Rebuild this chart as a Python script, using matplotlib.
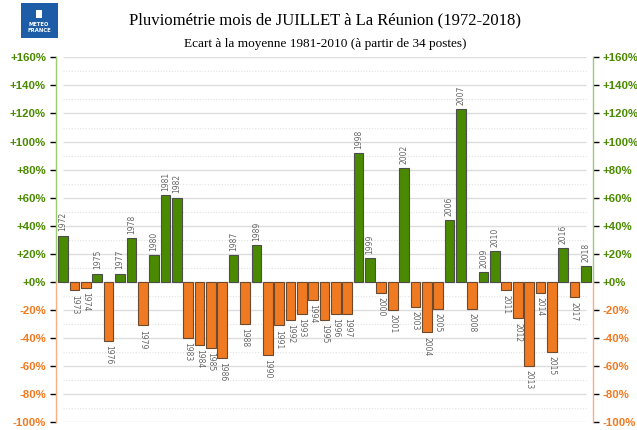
import matplotlib
matplotlib.use("Agg")
import matplotlib.pyplot as plt
from matplotlib.patches import Rectangle

# ecart a la moyenne (%) par annee
years = list(range(1972, 2019))
ecarts = [33, -6, -4, 6, -42, 6, 31, -31, 19, 62, 60,
          -40, -45, -47, -54, 19, -30, 26, -52, -31, -27, -23, -13,
          -27, -23, -23, 92, 17, -8, -20, 81, -18, -36, -19, 44, 123,
          -19, 7, 22, -6, -26, -60, -8, -50, 24, -11, 11]
ticks = list(range(-100, 161, 20))

GREEN = '#4a8a00'
ORANGE = '#f07a22'
SP_GREEN = '#9ccb70'
SP_ORANGE = '#f8b080'

fig = plt.figure(figsize=(6.37, 4.30), dpi=100)
ax = fig.add_axes([0.0874, 0.0179, 0.843, 0.8488])

x = list(range(len(years)))
cols = [GREEN if v >= 0 else ORANGE for v in ecarts]
edges = ['#4d4d4d' if v >= 0 else '#6b4a30' for v in ecarts]
ax.bar(x, ecarts, width=0.85, color=cols, edgecolor=edges, linewidth=0.8, zorder=3)

# grille : lignes pleines tous les 20 %, pointillees entre
for t in ticks:
    ax.hlines(t, 0, len(years) - 1, colors='#dddddd', linewidth=1, zorder=1)
for t in range(-90, 160, 20):
    ax.hlines(t, 0, len(years) - 1, colors='#e2e2e2', linewidth=0.8,
              linestyles=(0, (1, 1.5)), zorder=1)

for i, (yr, v) in enumerate(zip(years, ecarts)):
    if v >= 0:
        ax.text(i, v + 3, str(yr), rotation=90, ha='center', va='bottom',
                fontsize=5.5, color='#666666')
    else:
        ax.text(i, v - 3, str(yr), rotation=-90, ha='center', va='top',
                fontsize=5.5, color='#666666')

xl, xr = -0.66, len(years) - 1 + 0.6
ax.set_xlim(xl, xr)
ax.set_ylim(-100, 160)
ax.set_xticks([])
for s in ax.spines.values():
    s.set_visible(False)

# axes gauche et droit bicolores
for xs in (xl, xr):
    ax.plot([xs, xs], [0, 160], color=SP_GREEN, lw=1, clip_on=False, zorder=2)
    ax.plot([xs, xs], [-100, 0], color=SP_ORANGE, lw=1, clip_on=False, zorder=2)

ax.set_yticks(ticks)
ax.set_yticklabels(['%+d%%' % t if t != 0 else '+0%' for t in ticks],
                   family='Liberation Sans')
ax.tick_params(axis='y', length=4, width=1, pad=3, labelsize=8.2,
               right=True, labelright=True)
for t, tk in zip(ticks, ax.yaxis.get_major_ticks()):
    c = GREEN if t >= 0 else ORANGE
    sc = SP_GREEN if t > 0 else (SP_ORANGE if t < 0 else '#d8c090')
    for lab in (tk.label1, tk.label2):
        lab.set_color(c)
        lab.set_fontweight('bold')
    tk.tick1line.set_color(sc)
    tk.tick2line.set_color(sc)

fig.text(0.51, 0.952, 'Pluviométrie mois de JUILLET à La Réunion (1972-2018)',
         ha='center', va='center', fontsize=12, family='Liberation Serif')
fig.text(0.51, 0.897, 'Ecart à la moyenne 1981-2010 (à partir de 34 postes)',
         ha='center', va='center', fontsize=9.5, family='Liberation Serif')

# logo Meteo France
logo = Rectangle((20.5 / 637, 1 - 37.5 / 430), 37 / 637, 34.5 / 430,
                 transform=fig.transFigure, facecolor='#1d5ca6', edgecolor='none')
fig.add_artist(logo)
icon = Rectangle((36 / 637, 1 - 18 / 430), 6 / 637, 8 / 430,
                 transform=fig.transFigure, facecolor='white', edgecolor='none')
fig.add_artist(icon)
fig.text(39 / 637, 1 - 24 / 430, 'METEO', ha='center', va='center', fontsize=3.8,
         color='white', fontweight='bold')
fig.text(39 / 637, 1 - 30 / 430, 'FRANCE', ha='center', va='center', fontsize=3.8,
         color='white', fontweight='bold')

fig.savefig('out.png', dpi=100)
